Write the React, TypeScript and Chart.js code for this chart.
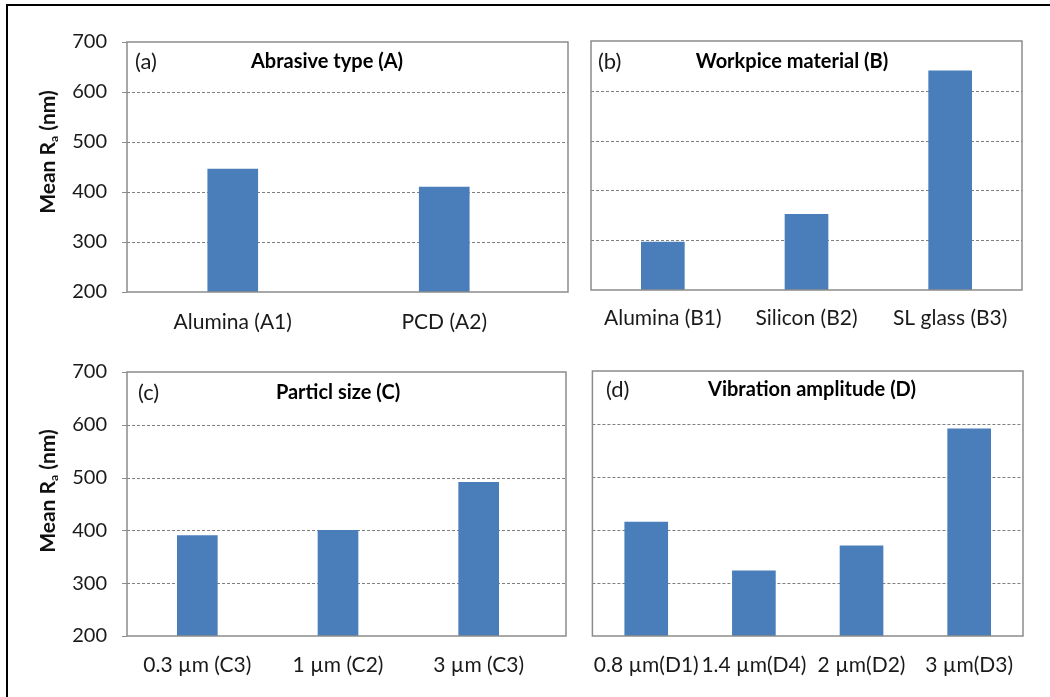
import React, { useEffect, useRef } from "react";
import { Chart, registerables } from "chart.js";

Chart.register(...registerables);

const FONT = "Lato, 'Open Sans', sans-serif";

// ---- data ----
const yTicks = [200, 300, 400, 500, 600, 700];
const abrasiveLabels = ["Alumina (A1)", "PCD (A2)"];
const abrasiveValues = [446, 410];
const workpieceLabels = ["Alumina (B1)", "Silicon (B2)", "SL glass (B3)"];
const workpieceValues = [296, 352, 640];
const particleLabels = ["0.3 µm (C3)", "1 µm (C2)", "3 µm (C3)"];
const particleValues = [390, 400, 491];
const vibrationLabels = ["0.8 µm(D1)", "1.4 µm(D4)", "2 µm(D2)", "3 µm(D3)"];
const vibrationValues = [415, 323, 370, 591];
const panelLetters = ["(a)", "(b)", "(c)", "(d)"];
const panelTitles = [
  "Abrasive type (A)",
  "Workpice material (B)",
  "Particl size (C)",
  "Vibration amplitude (D)",
];
const yTitleParts = ["Mean R", "a", " (nm)"];

const BAR_COLOR = "#4A7EBB";

type PanelCfg = {
  labels: string[];
  values: number[];
  letter: string;
  title: string;
  left: number;
  top: number;
  w: number;
  h: number;
  padTop: number;
  padRight: number;
  yWidth: number;
  xHeight: number;
  xPad: number;
  showY: boolean;
  bar: number;
  frameExt: number;
  letterX: number;
  titleCX: number;
  textY: number;
  yTitleY: number;
};

const panels: PanelCfg[] = [
  {
    labels: abrasiveLabels, values: abrasiveValues, letter: panelLetters[0], title: panelTitles[0],
    left: 0, top: 0, w: 575, h: 340, padTop: 42, padRight: 25, yWidth: 127, xHeight: 48, xPad: 18,
    showY: true, bar: 50, frameExt: 18, letterX: 135, titleCX: 327, textY: 62, yTitleY: 152,
  },
  {
    labels: workpieceLabels, values: workpieceValues, letter: panelLetters[1], title: panelTitles[1],
    left: 575, top: 0, w: 475, h: 340, padTop: 41, padRight: 28, yWidth: 16, xHeight: 50, xPad: 16,
    showY: false, bar: 43, frameExt: 0, letterX: 23, titleCX: 217, textY: 62, yTitleY: 0,
  },
  {
    labels: particleLabels, values: particleValues, letter: panelLetters[2], title: panelTitles[2],
    left: 0, top: 340, w: 575, h: 357, padTop: 28, padRight: 26, yWidth: 127, xHeight: 61, xPad: 17,
    showY: true, bar: 40, frameExt: 17, letterX: 138, titleCX: 338, textY: 53, yTitleY: 151,
  },
  {
    labels: vibrationLabels, values: vibrationValues, letter: panelLetters[3], title: panelTitles[3],
    left: 575, top: 340, w: 475, h: 357, padTop: 31, padRight: 27, yWidth: 14, xHeight: 61, xPad: 17,
    showY: false, bar: 43, frameExt: 0, letterX: 31, titleCX: 237, textY: 50, yTitleY: 0,
  },
];

const decorPlugin = {
  id: "panelDecor",
  beforeDatasetsDraw(chart: any, _args: any, opts: any) {
    const { ctx, chartArea: ca, scales } = chart;
    const y = scales.y;
    const right = ca.right + opts.frameExt;
    ctx.save();
    ctx.strokeStyle = "#7f7f7f";
    ctx.lineWidth = 1;
    ctx.setLineDash([3, 2]);
    y.ticks.forEach((t: any) => {
      if (t.value <= y.min || t.value >= y.max) return;
      const py = Math.round(y.getPixelForValue(t.value)) + 0.5;
      ctx.beginPath();
      ctx.moveTo(ca.left, py);
      ctx.lineTo(right, py);
      ctx.stroke();
    });
    ctx.restore();
  },
  afterDatasetsDraw(chart: any, _args: any, opts: any) {
    const { ctx, chartArea: ca, scales } = chart;
    const y = scales.y;
    const right = ca.right + opts.frameExt;
    ctx.save();
    ctx.strokeStyle = "#8c8c8c";
    ctx.lineWidth = 1.5;
    ctx.strokeRect(ca.left, ca.top, right - ca.left, ca.bottom - ca.top);
    if (opts.showY) {
      ctx.lineWidth = 1;
      y.ticks.forEach((t: any) => {
        const py = Math.round(y.getPixelForValue(t.value)) + 0.5;
        ctx.beginPath();
        ctx.moveTo(ca.left - 5, py);
        ctx.lineTo(ca.left, py);
        ctx.stroke();
      });
    }
    ctx.restore();
  },
  afterDraw(chart: any, _args: any, opts: any) {
    const { ctx } = chart;
    ctx.save();
    ctx.textBaseline = "middle";
    ctx.fillStyle = "#1a1a1a";
    ctx.font = `22px ${FONT}`;
    ctx.textAlign = "left";
    ctx.fillText(opts.letter, opts.letterX, opts.textY);
    ctx.fillStyle = "#000";
    ctx.font = `bold 20px ${FONT}`;
    ctx.textAlign = "center";
    ctx.fillText(opts.title, opts.titleCX, opts.textY);
    if (opts.showY) {
      ctx.translate(48, opts.yTitleY);
      ctx.rotate(-Math.PI / 2);
      ctx.textAlign = "left";
      ctx.fillStyle = "#111";
      const big = `bold 21px ${FONT}`;
      const small = `bold 12px ${FONT}`;
      ctx.font = big;
      const w1 = ctx.measureText(yTitleParts[0]).width;
      const w3 = ctx.measureText(yTitleParts[2]).width;
      ctx.font = small;
      const w2 = ctx.measureText(yTitleParts[1]).width;
      const start = -(w1 + w2 + w3) / 2;
      ctx.font = big;
      ctx.fillText(yTitleParts[0], start, 0);
      ctx.font = small;
      ctx.fillText(yTitleParts[1], start + w1, 6);
      ctx.font = big;
      ctx.fillText(yTitleParts[2], start + w1 + w2, 0);
    }
    ctx.restore();
  },
};

function Panel({ cfg }: { cfg: PanelCfg }) {
  const ref = useRef<HTMLCanvasElement>(null);
  useEffect(() => {
    const chart = new Chart(ref.current as HTMLCanvasElement, {
      type: "bar",
      data: {
        labels: cfg.labels,
        datasets: [
          {
            data: cfg.values,
            backgroundColor: BAR_COLOR,
            borderWidth: 0,
            barThickness: cfg.bar,
          },
        ],
      },
      plugins: [decorPlugin as any],
      options: {
        responsive: false,
        animation: false,
        events: [],
        layout: { padding: { top: cfg.padTop, right: cfg.padRight, left: 0, bottom: 0 } },
        plugins: {
          legend: { display: false },
          tooltip: { enabled: false },
          title: { display: false },
          panelDecor: {
            letter: cfg.letter,
            title: cfg.title,
            letterX: cfg.letterX,
            titleCX: cfg.titleCX,
            textY: cfg.textY,
            yTitleY: cfg.yTitleY,
            showY: cfg.showY,
            frameExt: cfg.frameExt,
          },
        } as any,
        scales: {
          x: {
            grid: { display: false, drawTicks: false },
            border: { display: false },
            ticks: {
              font: { family: FONT, size: 21 },
              color: "#1a1a1a",
              padding: cfg.xPad,
              maxRotation: 0,
              minRotation: 0,
              autoSkip: false,
            },
            afterFit: (s: any) => {
              s.height = cfg.xHeight;
            },
          },
          y: {
            min: 200,
            max: 700,
            grid: { display: false, drawTicks: false },
            border: { display: false },
            afterBuildTicks: (s: any) => {
              s.ticks = yTicks.map((v) => ({ value: v }));
            },
            ticks: {
              display: cfg.showY,
              font: { family: FONT, size: 20 },
              color: "#1a1a1a",
              padding: 20,
            },
            afterFit: (s: any) => {
              s.width = cfg.yWidth;
            },
          },
        },
      } as any,
    });
    return () => chart.destroy();
  }, []);
  return (
    <canvas
      ref={ref}
      width={cfg.w}
      height={cfg.h}
      style={{ position: "absolute", left: cfg.left, top: cfg.top, width: cfg.w, height: cfg.h }}
    />
  );
}

export default function App() {
  return (
    <div
      style={{
        position: "absolute",
        left: 0,
        top: 0,
        width: 1050,
        height: 697,
        background: "#fff",
        overflow: "hidden",
      }}
    >
      {panels.map((p, i) => (
        <Panel key={i} cfg={p} />
      ))}
      <div
        style={{
          position: "absolute",
          left: 6,
          top: 4,
          width: 1050,
          height: 700,
          borderLeft: "2px solid #000",
          borderTop: "2px solid #000",
          pointerEvents: "none",
        }}
      />
    </div>
  );
}
